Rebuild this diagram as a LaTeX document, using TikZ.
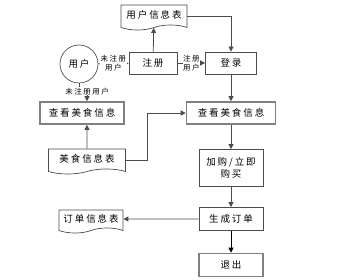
\documentclass[tikz,border=0pt]{standalone}
\usepackage{fontspec}
\setmainfont{Noto Sans CJK SC}[LetterSpace=20]
\usetikzlibrary{shapes.symbols, arrows.meta, positioning}

\tikzset{
    proc/.style={draw=black!70, line width=0.8pt, rectangle, fill=white, inner sep=1pt, align=center},
    mainproc/.style={proc, draw=black!50, line width=1.6pt},
    docu/.style={draw=black!70, line width=0.7pt, tape, tape bend top=none, tape bend height=5pt, fill=white, inner sep=1pt},
    flow/.style={draw=black!70, line width=0.8pt, -{Triangle[width=5pt,length=5pt]}},
    tag/.style={fill=white, inner sep=0.5pt, font=\fontsize{7.5}{9}\selectfont, align=center}
}

\begin{document}
\begin{tikzpicture}[x=1pt, y=-1pt, font=\fontsize{9.5}{12}\selectfont]
    \useasboundingbox (0,0) rectangle (339,280);

    \node (uinfo) [docu, minimum width=66pt, minimum height=25pt] at (154,15) {用户信息表};
    \node (user) [draw=black!70, line width=0.7pt, circle, minimum size=38pt] at (79,64) {用户};
    \node (reg) [proc, minimum width=48pt, minimum height=22pt] at (153,63) {注册};
    \node (login) [proc, minimum width=51pt, minimum height=22pt] at (231,63) {登录};
    \node (view1) [mainproc, minimum width=84pt, minimum height=22pt] at (82,113) {查看美食信息};
    \node (view2) [mainproc, minimum width=89pt, minimum height=22pt] at (231,113) {查看美食信息};
    \node (finfo) [docu, minimum width=77pt, minimum height=25pt] at (87,159) {美食信息表};
    \node (buy) [proc, minimum width=64pt, minimum height=37pt] at (231,168) {加购/立即\\购买};
    \node (order) [proc, minimum width=64pt, minimum height=23pt] at (231,219) {生成订单};
    \node (oinfo) [docu, minimum width=64pt, minimum height=23pt] at (91,219) {订单信息表};
    \node (quit) [mainproc, minimum width=64pt, minimum height=23pt] at (231,265) {退出};

    % user branch
    \draw [flow] (user) -- node[tag] {未注册\\用户} (reg);
    \draw [flow] (reg) -- node[tag] {注册\\用户} (login);
    \draw [flow] (reg) -- (uinfo);
    \draw [flow] (uinfo.east |- 0,16) -| (login);
    \draw [flow] (user.south) -- ++(0,8) -| node[tag, pos=0.5] {未注册用户} (view1.north -| finfo.north);

    % food info
    \draw [flow] (finfo) -- (finfo |- view1.south);
    \draw [flow] (finfo.east |- 0,160) -- ++(22,0) |- (view2.west);

    % main column
    \draw [flow] (login) -- (view2);
    \draw [flow] (view2) -- (buy);
    \draw [flow] (buy) -- (order);
    \draw [flow] (order) -- (oinfo);
    \draw [flow, draw=black] (order) -- (quit);
\end{tikzpicture}
\end{document}
